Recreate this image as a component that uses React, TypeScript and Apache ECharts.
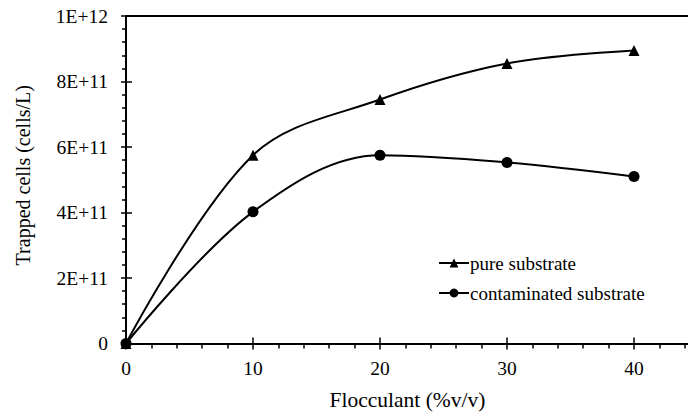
import React, { useEffect, useRef } from "react";
import * as echarts from "echarts";

const xValues = [0, 10, 20, 30, 40];
const pureSubstrate = [0, 5.75e11, 7.45e11, 8.55e11, 8.95e11];
const contaminatedSubstrate = [0, 4.02e11, 5.75e11, 5.53e11, 5.1e11];
const seriesNames = ["pure substrate", "contaminated substrate"];
const xTitle = "Flocculant (%v/v)";
const yTitle = "Trapped cells (cells/L)";

const FONT = "Liberation Serif, Times New Roman, serif";

function yLabel(v: number): string {
  if (v === 0) return "0";
  const exp = Math.floor(Math.log10(v) + 1e-9);
  const mant = Math.round((v / Math.pow(10, exp)) * 100) / 100;
  return `${mant}E+${exp < 10 ? "0" + exp : exp}`;
}

export default function App() {
  const ref = useRef<HTMLDivElement>(null);
  useEffect(() => {
    if (!ref.current) return;
    const chart = echarts.init(ref.current, undefined, { renderer: "svg" });
    const axisLine = { show: true, lineStyle: { color: "#000", width: 2 } };
    const xBase = {
      type: "value" as const,
      min: 0,
      max: 50,
      interval: 10,
      splitLine: { show: false },
    };
    const yBase = {
      type: "value" as const,
      min: 0,
      max: 1e12,
      interval: 2e11,
      splitLine: { show: false },
    };
    chart.setOption({
      animation: false,
      backgroundColor: "#fff",
      textStyle: { fontFamily: FONT },
      grid: { left: 126, top: 16, width: 635, height: 327.5, outerBoundsMode: "none", containLabel: false },
      legend: {
        orient: "vertical",
        left: 433,
        top: 248.5,
        itemWidth: 30,
        itemHeight: 11,
        itemGap: 11,
        data: seriesNames,
        textStyle: { fontFamily: FONT, fontSize: 19, color: "#000", padding: [0, 0, 0, -4] },
      },
      xAxis: [
        {
          ...xBase,
          position: "bottom",
          axisLine,
          axisTick: { show: true, inside: false, length: 6, lineStyle: { color: "#000", width: 1.5 } },
          minorTick: { show: true, splitNumber: 5, length: 5, lineStyle: { color: "#000", width: 1.5 } },
          axisLabel: {
            fontFamily: FONT,
            fontSize: 19.5,
            color: "#000",
            margin: 15,
            formatter: (v: number) => (v % 10 === 0 && v <= 40 ? String(v) : ""),
          },
        },
        {
          ...xBase,
          position: "bottom",
          axisLine: { show: false },
          axisTick: { show: true, inside: true, length: 6, lineStyle: { color: "#000", width: 1.5 } },
          axisLabel: { show: false },
        },
        {
          ...xBase,
          position: "top",
          axisLine,
          axisTick: { show: false },
          axisLabel: { show: false },
        },
        {
          type: "value",
          min: 0,
          max: 50,
          position: "bottom",
          name: xTitle,
          nameLocation: "middle",
          nameGap: 45.5,
          nameTextStyle: { fontFamily: FONT, fontSize: 21.5, color: "#000", padding: [0, 72, 0, 0] },
          axisLine: { show: false },
          axisTick: { show: false },
          axisLabel: { show: false },
          splitLine: { show: false },
        },
      ],
      yAxis: [
        {
          ...yBase,
          name: yTitle,
          nameLocation: "middle",
          nameGap: 93,
          nameTextStyle: { fontFamily: FONT, fontSize: 20, color: "#000", padding: [0, 0, 0, 9] },
          axisLine,
          axisTick: { show: true, inside: false, length: 5, lineStyle: { color: "#000", width: 1.5 } },
          minorTick: { show: true, splitNumber: 5, length: 4, lineStyle: { color: "#000", width: 1.5 } },
          axisLabel: {
            fontFamily: FONT,
            fontSize: 19.5,
            color: "#000",
            margin: 18,
            formatter: (v: number) => yLabel(v),
          },
        },
        {
          ...yBase,
          position: "left",
          axisLine: { show: false },
          axisTick: { show: true, inside: true, length: 6, lineStyle: { color: "#000", width: 1.5 } },
          axisLabel: { show: false },
        },
      ],
      series: [
        {
          name: seriesNames[0],
          type: "line",
          smooth: 0.35,
          symbol: "triangle",
          symbolSize: 11,
          data: xValues.map((x, i) => [x, pureSubstrate[i]]),
          itemStyle: { color: "#000" },
          lineStyle: { color: "#000", width: 2 },
        },
        {
          name: seriesNames[1],
          type: "line",
          smooth: 0.35,
          symbol: "circle",
          symbolSize: 11,
          data: xValues.map((x, i) => [x, contaminatedSubstrate[i]]),
          itemStyle: { color: "#000" },
          lineStyle: { color: "#000", width: 2 },
        },
      ],
    });
    return () => chart.dispose();
  }, []);
  return (
    <div
      ref={ref}
      style={{ position: "fixed", left: 0, top: 0, width: 688, height: 412, overflow: "hidden", background: "#fff" }}
    />
  );
}
